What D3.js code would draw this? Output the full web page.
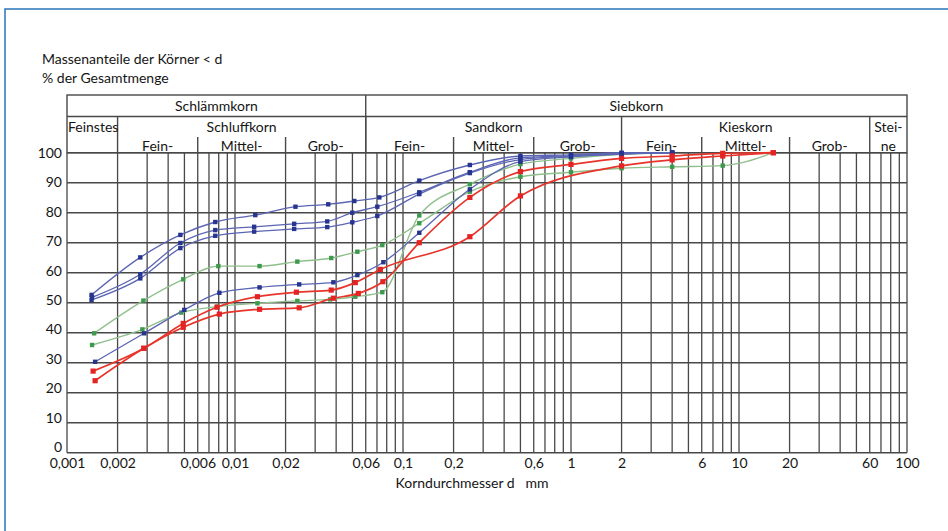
<!DOCTYPE html>
<html>
<head>
<meta charset="utf-8">
<script src="https://cdnjs.cloudflare.com/ajax/libs/d3/7.8.5/d3.min.js"></script>
<style>
  body { margin: 0; background: #fff; }
  svg text { font-family: Lato, "Open Sans", sans-serif; font-size: 14px; fill: #151515; }
</style>
</head>
<body>
<div id="chart"></div>
<script>
// tick labels
var xTickValues = [0.001, 0.002, 0.006, 0.01, 0.02, 0.06, 0.1, 0.2, 0.6, 1, 2, 6, 10, 20, 60, 100];
var yTickValues = [0, 10, 20, 30, 40, 50, 60, 70, 80, 90, 100];

// header classification (DIN 4022)
var mainGroups = [["Schlämmkorn", 0.001, 0.06], ["Siebkorn", 0.06, 100]];
var soilGroups = [["Feinstes", 0.001, 0.002], ["Schluffkorn", 0.002, 0.06], ["Sandkorn", 0.06, 2], ["Kieskorn", 2, 60], ["Stei-", 60, 100]];
var subGroups = [["Fein-", 0.002, 0.006], ["Mittel-", 0.006, 0.02], ["Grob-", 0.02, 0.06],
                 ["Fein-", 0.06, 0.2], ["Mittel-", 0.2, 0.6], ["Grob-", 0.6, 2],
                 ["Fein-", 2, 6], ["Mittel-", 6, 20], ["Grob-", 20, 60], ["ne", 60, 100]];

// grain size curves: [diameter mm, percent passing]
var blue1 = [[0.00140, 52.6], [0.00273, 65.1], [0.00473, 72.6], [0.00763, 76.9], [0.0132, 79.2], [0.0229, 82.0], [0.0359, 82.8], [0.0513, 83.9], [0.0723, 85.1], [0.125, 90.7], [0.25, 95.9], [0.5, 98.9], [1, 99.3], [2, 100], [4, 100]];
var blue2 = [[0.00141, 51.8], [0.00273, 59.5], [0.00473, 69.9], [0.00763, 74.2], [0.0130, 75.3], [0.0225, 76.3], [0.0354, 77.1], [0.0499, 80.0], [0.0703, 82.0], [0.125, 86.8], [0.25, 93.5], [0.5, 98.3], [1, 99.0], [2, 99.8], [4, 100]];
var blue3 = [[0.00140, 50.9], [0.00273, 58.1], [0.00473, 68.2], [0.00763, 72.3], [0.0130, 73.7], [0.0225, 74.6], [0.0354, 75.2], [0.0499, 76.8], [0.0703, 78.9], [0.125, 86.2], [0.25, 93.2], [0.5, 97.7], [1, 98.8], [2, 99.6], [4, 100]];
var blue4 = [[0.00147, 30.3], [0.00288, 39.8], [0.00499, 47.6], [0.00807, 53.3], [0.0140, 55.1], [0.0241, 56.1], [0.0385, 56.8], [0.0535, 59.2], [0.0764, 63.5], [0.125, 73.3], [0.25, 87.8], [0.5, 97.0], [1, 98.6], [2, 99.5], [4, 100]];
var green1 = [[0.00145, 39.8], [0.00285, 50.7], [0.00492, 57.8], [0.00796, 62.2], [0.0140, 62.2], [0.0235, 63.7], [0.0374, 64.9], [0.0535, 67.0], [0.0753, 69.2], [0.125, 76.5], [0.25, 87.0], [0.5, 92.0], [1, 93.5], [2, 94.8], [4, 95.3], [8, 95.7], [16, 100]];
var green2 = [[0.00141, 35.9], [0.00281, 41.1], [0.00479, 46.7], [0.00785, 48.7], [0.0136, 49.8], [0.0235, 50.6], [0.0369, 51.1], [0.0520, 52.0], [0.0753, 53.5], [0.125, 79.1], [0.25, 89.5], [0.5, 96.2], [1, 98.1], [2, 99.5], [4, 100]];
var red1 = [[0.00143, 27.2], [0.00287, 34.8], [0.00492, 43.1], [0.00781, 48.5], [0.0136, 52.0], [0.0232, 53.5], [0.0374, 54.2], [0.0520, 56.7], [0.0733, 61.1], [0.25, 72.0], [0.5, 85.6], [2, 95.6], [4, 97.6], [8, 98.9], [16, 100]];
var red2 = [[0.00147, 24.0], [0.00287, 34.8], [0.00492, 41.8], [0.00807, 46.2], [0.0140, 47.8], [0.0241, 48.3], [0.0385, 51.5], [0.0542, 53.1], [0.0759, 57.0], [0.125, 70.0], [0.25, 85.1], [0.5, 93.7], [1, 96.1], [2, 98.1], [4, 98.9], [8, 99.8], [16, 100]];

var curves = [
  {data: green1, line: "#8fbf8c", dot: "#3d9a4c", w: 1.4, r: 2.2},
  {data: green2, line: "#8fbf8c", dot: "#3d9a4c", w: 1.4, r: 2.2},
  {data: blue1, line: "#5b65b3", dot: "#27358f", w: 1.3, r: 2.2},
  {data: blue2, line: "#5b65b3", dot: "#27358f", w: 1.3, r: 2.2},
  {data: blue3, line: "#5b65b3", dot: "#27358f", w: 1.3, r: 2.2},
  {data: blue4, line: "#5b65b3", dot: "#27358f", w: 1.3, r: 2.2},
  {data: red1, line: "#e8352b", dot: "#e42424", w: 1.7, r: 2.6},
  {data: red2, line: "#e8352b", dot: "#e42424", w: 1.7, r: 2.6}
];

// setup canvas
var svg_width = 948, svg_height = 531;
var svg = d3.select("#chart").append("svg")
  .attr("width", svg_width)
  .attr("height", svg_height);

// blue frame
svg.append("rect")
  .attr("x", 5).attr("y", 9)
  .attr("width", 960).attr("height", 540)
  .attr("fill", "none")
  .attr("stroke", "#2a75bb")
  .attr("stroke-width", 1.5);

var x = d3.scaleLog().domain([0.001, 100]).range([67, 907]);
var y = d3.scaleLinear().domain([0, 100]).range([452.7, 152.7]);
// the printed y labels drift slightly from the grid
var yLab = d3.scaleLinear().domain([0, 100]).range([447, 153]);

var gridColor = "#484848";

// title
svg.append("text").attr("x", 42).attr("y", 64).text("Massenanteile der Körner < d");
svg.append("text").attr("x", 42).attr("y", 83).text("% der Gesamtmenge");

// vertical log grid
var gridX = [];
for (var e = -3; e < 2; e++) {
  for (var m = 1; m <= 9; m++) gridX.push(m * Math.pow(10, e));
}
gridX.push(100);

svg.append("g").selectAll("line")
  .data(gridX)
  .enter().append("line")
  .attr("x1", function(d) { return x(d); })
  .attr("x2", function(d) { return x(d); })
  .attr("y1", y(100))
  .attr("y2", y(0))
  .attr("stroke", gridColor)
  .attr("stroke-width", 1.3);

// horizontal grid
svg.append("g").selectAll("line")
  .data(yTickValues)
  .enter().append("line")
  .attr("x1", x(0.001))
  .attr("x2", x(100))
  .attr("y1", function(d) { return y(d); })
  .attr("y2", function(d) { return y(d); })
  .attr("stroke", gridColor)
  .attr("stroke-width", 1.4);

// header boxes
var hTop = 95, hMid = 116.5, hSub = 137;
var header = svg.append("g");
header.append("rect")
  .attr("x", x(0.001)).attr("y", hTop)
  .attr("width", x(100) - x(0.001)).attr("height", y(100) - hTop)
  .attr("fill", "none").attr("stroke", gridColor).attr("stroke-width", 1.4);
header.append("line")
  .attr("x1", x(0.001)).attr("x2", x(100))
  .attr("y1", hMid).attr("y2", hMid)
  .attr("stroke", gridColor).attr("stroke-width", 1.4);

header.selectAll(".main-div")
  .data(mainGroups.slice(1))
  .enter().append("line")
  .attr("x1", function(d) { return x(d[1]); })
  .attr("x2", function(d) { return x(d[1]); })
  .attr("y1", hTop).attr("y2", y(100))
  .attr("stroke", gridColor).attr("stroke-width", 1.4);

header.selectAll(".soil-div")
  .data(soilGroups.slice(1))
  .enter().append("line")
  .attr("x1", function(d) { return x(d[1]); })
  .attr("x2", function(d) { return x(d[1]); })
  .attr("y1", hMid).attr("y2", y(100))
  .attr("stroke", gridColor).attr("stroke-width", 1.4);

header.selectAll(".sub-div")
  .data(subGroups.filter(function(d) { return [0.002, 0.06, 2, 60].indexOf(d[1]) < 0; }))
  .enter().append("line")
  .attr("x1", function(d) { return x(d[1]); })
  .attr("x2", function(d) { return x(d[1]); })
  .attr("y1", hSub).attr("y2", y(100))
  .attr("stroke", gridColor).attr("stroke-width", 1.4);

header.selectAll(".main-label")
  .data(mainGroups)
  .enter().append("text")
  .attr("x", function(d) { return (x(d[1]) + x(d[2])) / 2; })
  .attr("y", 111)
  .attr("text-anchor", "middle")
  .text(function(d) { return d[0]; });

header.selectAll(".soil-label")
  .data(soilGroups)
  .enter().append("text")
  .attr("x", function(d) { return d[0] == "Feinstes" ? x(d[1]) + 1 : (x(d[1]) + x(d[2])) / 2; })
  .attr("y", 132)
  .attr("text-anchor", function(d) { return d[0] == "Feinstes" ? "start" : "middle"; })
  .text(function(d) { return d[0]; });

header.selectAll(".sub-label")
  .data(subGroups)
  .enter().append("text")
  .attr("x", function(d) { return (x(d[1]) + x(d[2])) / 2; })
  .attr("y", 151)
  .attr("text-anchor", "middle")
  .text(function(d) { return d[0]; });

// y labels
svg.append("g").selectAll("text")
  .data(yTickValues)
  .enter().append("text")
  .attr("x", 62)
  .attr("y", function(d) { return yLab(d); })
  .attr("dy", "0.36em")
  .attr("text-anchor", "end")
  .text(function(d) { return d; });

// x-axis labels
var fmt = function(d) { return String(d).replace(".", ","); };
var xAxis = svg.append("g")
  .attr("transform", "translate(0," + y(0) + ")")
  .call(d3.axisBottom(x).tickValues(xTickValues).tickFormat(fmt).tickSize(0).tickPadding(5));
xAxis.select(".domain").remove();
xAxis.selectAll("text")
  .attr("font-family", null)
  .attr("font-size", null)
  .style("fill", "#151515");

svg.append("text")
  .attr("x", 472)
  .attr("y", 488)
  .attr("text-anchor", "middle")
  .style("white-space", "pre")
  .text("Korndurchmesser d   mm");

// curves
var line = d3.line()
  .x(function(d) { return x(d[0]); })
  .y(function(d) { return y(d[1]); })
  .curve(d3.curveMonotoneX);

var series = svg.append("g").selectAll("g")
  .data(curves)
  .enter().append("g");

series.append("path")
  .attr("d", function(c) { return line(c.data); })
  .attr("fill", "none")
  .attr("stroke", function(c) { return c.line; })
  .attr("stroke-width", function(c) { return c.w; });

series.selectAll("rect")
  .data(function(c) { return c.data.map(function(p) { return {p: p, c: c}; }); })
  .enter().append("rect")
  .attr("x", function(d) { return x(d.p[0]) - d.c.r; })
  .attr("y", function(d) { return y(d.p[1]) - d.c.r; })
  .attr("width", function(d) { return d.c.r * 2; })
  .attr("height", function(d) { return d.c.r * 2; })
  .attr("fill", function(d) { return d.c.dot; });
</script>
</body>
</html>
